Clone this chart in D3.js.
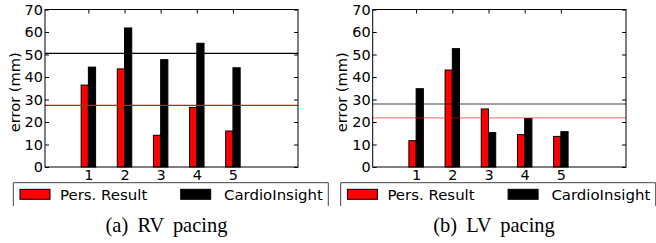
<!DOCTYPE html>
<html><head><meta charset="utf-8">
<script src="https://cdn.jsdelivr.net/npm/d3@7"></script>
<style>body{margin:0;background:#fff}svg{display:block}</style>
</head><body>
<svg id="c" width="656" height="243"></svg>
<script>
const categories = [1, 2, 3, 4, 5];
const yTicks = [0, 10, 20, 30, 40, 50, 60, 70];
const seriesNames = ["Pers. Result", "CardioInsight"];
const seriesColors = ["#ff0000", "#000000"];
const rvPers = [36.4, 43.6, 14.1, 26.5, 16.0];
const rvCardio = [44.4, 61.8, 47.7, 55.0, 44.1];
const rvMeans = [27.4, 50.5];
const lvPers = [11.7, 43.1, 25.8, 14.4, 13.6];
const lvCardio = [34.8, 52.6, 15.3, 21.5, 15.7];
const lvMeans = [21.8, 28.0];
const captions = ["(a) RV pacing", "(b) LV pacing"];

const svg = d3.select("#c");
const font = "DejaVu Sans, sans-serif";
const serif = "Liberation Serif, Times New Roman, serif";

// calibrate font sizes to the reference text widths
function measure(txt, fam, size, ws) {
  const t = svg.append("text").attr("font-family", fam).attr("font-size", size)
    .attr("word-spacing", ws || 0).text(txt);
  const w = t.node().getComputedTextLength();
  t.remove();
  return w;
}
const sansK = 99 / measure("CardioInsight", font, 15);
const legendSize = 15 * sansK;
const tickSize = 14.5 * sansK;
const labelSize = 14.7 * sansK;
const capSize = 18 * 123 / measure(captions[0], serif, 18, 4);

const panels = [
  {x0: 45, x1: 298, pers: rvPers, cardio: rvCardio, means: rvMeans, meanOpacity: 1, legendX: 13.3, cap: captions[0], capX: 166.5},
  {x0: 372.7, x1: 626, pers: lvPers, cardio: lvCardio, means: lvMeans, meanOpacity: 0.5, legendX: 340.7, cap: captions[1], capX: 494}
];
const yTop = 9.5, yBot = 167;

panels.forEach(p => {
  const g = svg.append("g");
  const x = d3.scaleLinear().domain([-0.2, 6.8]).range([p.x0, p.x1]);
  const y = d3.scaleLinear().domain([0, 70]).range([yBot, yTop]);
  const bw = 0.2;
  [p.pers, p.cardio].forEach((vals, si) => {
    g.selectAll(null).data(vals).enter().append("rect")
      .attr("x", (d, i) => x(categories[i] - bw + si * bw))
      .attr("width", x(bw) - x(0))
      .attr("y", d => y(d))
      .attr("height", d => y(0) - y(d))
      .attr("fill", seriesColors[si])
      .attr("stroke", "#000").attr("stroke-width", 1);
  });
  p.means.forEach((m, i) => {
    g.append("line").attr("x1", x(-0.2)).attr("x2", x(6.8))
      .attr("y1", y(m)).attr("y2", y(m))
      .attr("stroke", seriesColors[i]).attr("stroke-width", 1.3)
      .attr("stroke-opacity", p.meanOpacity);
  });
  const axL = d3.axisLeft(y).tickValues(yTicks).tickSizeInner(-4).tickSizeOuter(0).tickPadding(2);
  const axR = d3.axisRight(y).tickValues(yTicks).tickSizeInner(-4).tickSizeOuter(0).tickFormat("");
  const axB = d3.axisBottom(x).tickValues(categories).tickFormat(d3.format("d")).tickSizeInner(-4).tickSizeOuter(0).tickPadding(3);
  const axT = d3.axisTop(x).tickValues(categories).tickSizeInner(-4).tickSizeOuter(0).tickFormat("");
  const gl = g.append("g").attr("transform", `translate(${p.x0},0)`).call(axL);
  const gr = g.append("g").attr("transform", `translate(${p.x1},0)`).call(axR);
  const gb = g.append("g").attr("transform", `translate(0,${yBot})`).call(axB);
  const gt = g.append("g").attr("transform", `translate(0,${yTop})`).call(axT);
  [gl, gr, gb, gt].forEach(a => {
    a.select(".domain").remove();
    a.selectAll("line").attr("stroke", "#000");
    a.selectAll("text").attr("font-family", font).attr("font-size", tickSize).attr("fill", "#000");
  });
  g.append("rect").attr("x", p.x0).attr("y", yTop).attr("width", p.x1 - p.x0).attr("height", yBot - yTop)
    .attr("fill", "none").attr("stroke", "#000").attr("stroke-width", 1);
  g.append("text").attr("transform", `translate(${p.x0 - 31},${(yTop + yBot) / 2 + 4}) rotate(-90)`)
    .attr("text-anchor", "middle").attr("dominant-baseline", "central")
    .attr("font-family", font).attr("font-size", labelSize).text("error (mm)");
  const lx = p.legendX, ly = 182.7;
  g.append("path").attr("d", `M${lx},206V${ly}H${lx + 315}V206`)
    .attr("fill", "none").attr("stroke", "#444").attr("stroke-width", 1);
  const offs = [[6.7, 46.7], [167.4, 210.7]];
  seriesNames.forEach((n, i) => {
    g.append("rect").attr("x", lx + offs[i][0]).attr("y", 189.3).attr("width", 30).attr("height", 10)
      .attr("fill", seriesColors[i]).attr("stroke", "#000").attr("stroke-width", 1);
    g.append("text").attr("x", lx + offs[i][1]).attr("y", 200)
      .attr("font-family", font).attr("font-size", legendSize).text(n);
  });
  g.append("text").attr("x", p.capX).attr("y", 232).attr("text-anchor", "middle")
    .attr("font-family", serif).attr("font-size", capSize)
    .attr("word-spacing", 4).text(p.cap);
});
</script>
</body></html>
